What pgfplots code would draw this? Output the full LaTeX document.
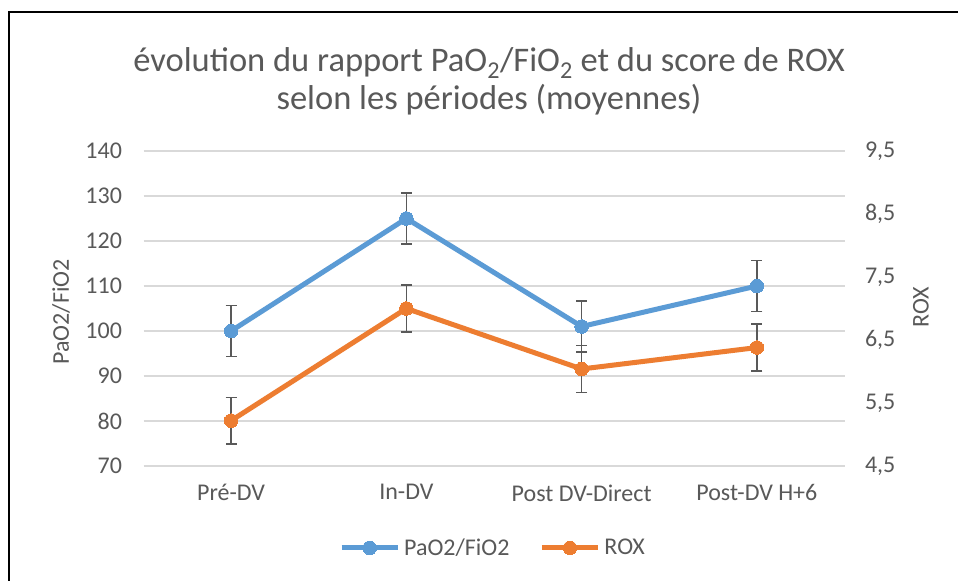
\documentclass[border=0pt]{standalone}
\usepackage{fontspec}
\setmainfont{Carlito}
\usepackage{pgfplots}
\pgfplotsset{compat=1.18}
\definecolor{sblue}{HTML}{5B9BD5}
\definecolor{sorange}{HTML}{ED7D31}
\definecolor{txtgray}{HTML}{595959}
\definecolor{gridgray}{HTML}{D9D9D9}
\definecolor{errgray}{HTML}{595959}
\begin{document}
\begin{tikzpicture}[x=1bp,y=1bp]
\useasboundingbox (0,0) rectangle (958,581);
\fill[white] (0,0) rectangle (958,581);
\draw[line width=1.6bp,black] (9,0) -- (9,569) -- (958,569);
\node[align=center,font=\fontsize{34.5bp}{38bp}\selectfont,text=txtgray] at (489,500)
  {évolution du rapport PaO\textsubscript{2}/FiO\textsubscript{2} et du score de ROX\\selon les périodes (moyennes)};
\pgfplotsset{
  common/.style={
    at={(143.5bp,115bp)}, anchor=south west, scale only axis,
    width=701bp, height=315bp,
    xmin=-0.5, xmax=3.5,
    axis line style={draw=none},
    major tick length=0pt,
    tick label style={font=\fontsize{24bp}{28bp}\selectfont,text=txtgray},
    label style={font=\fontsize{24bp}{28bp}\selectfont,text=txtgray},
    /pgf/number format/assume math mode=true,
  },
  ebars/.style={error bars/.cd, y dir=both, y explicit,
    error bar style={color=errgray,line width=1.5bp},
    error mark options={rotate=90,mark size=5.5bp,line width=1.5bp,color=errgray}},
}
\begin{axis}[common,
  ymin=70, ymax=140, ytick={70,80,...,140},
  ymajorgrids, grid style={color=gridgray,line width=1.2bp},
  xtick={0,1,2,3},
  xticklabels={Pré-DV,In-DV,Post DV-Direct,Post-DV H+6},
  xticklabel style={yshift=-15bp},
  yticklabel style={xshift=-18bp},
  ylabel={PaO2/FiO2},
  ylabel style={at={(axis description cs:-0.1177,0.489)},anchor=center},
]
\addplot[sblue,line width=5bp,mark=*,mark size=6.8bp,mark options={fill=sblue,draw=sblue,line width=0pt},ebars]
  coordinates {(0,100) +- (0,5.7) (1,125) +- (0,5.7) (2,101) +- (0,5.7) (3,110) +- (0,5.7)};
\end{axis}
\begin{axis}[common,
  ymin=4.5, ymax=9.5, ytick={4.5,5.5,...,9.5},
  axis y line*=right, axis x line=none,
  yticklabel style={xshift=17bp,/pgf/number format/.cd,fixed,fixed zerofill,precision=1,use comma},
  ylabel={ROX},
  ylabel style={at={(axis description cs:1.109,0.505)},anchor=center},
  legend style={at={(0.4986,-0.26)},anchor=center,draw=none,fill=none,
    font=\fontsize{24bp}{28bp}\selectfont,text=txtgray,
    nodes={inner xsep=2bp},
    legend columns=2, column sep=2bp,
    /tikz/every even column/.append style={column sep=28bp}},
  legend image code/.code={\draw[mark repeat=2,mark phase=2,#1] plot coordinates {(0bp,0bp) (28bp,0bp) (56bp,0bp)};},
]
\addlegendimage{sblue,line width=5bp,mark=*,mark size=6.8bp,mark options={fill=sblue,draw=sblue,line width=0pt}}
\addlegendentry{PaO2/FiO2}
\addplot[sorange,line width=5bp,mark=*,mark size=6.8bp,mark options={fill=sorange,draw=sorange,line width=0pt},ebars]
  coordinates {(0,5.22) +- (0,0.37) (1,7.0) +- (0,0.37) (2,6.04) +- (0,0.37) (3,6.38) +- (0,0.37)};
\addlegendentry{ROX}
\end{axis}
\end{tikzpicture}
\end{document}
